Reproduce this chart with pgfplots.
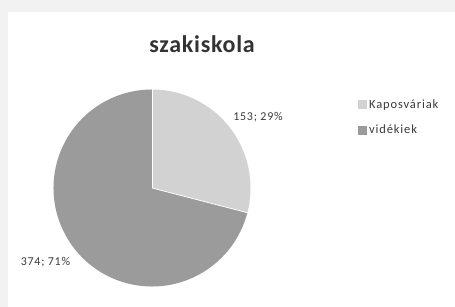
\documentclass[border=0pt]{standalone}
\usepackage{pgfplots}
\pgfplotsset{compat=1.18}
\usepackage{pgfplotstable}
\usepackage{fontspec}
\setmainfont{Carlito}
\newfontfamily\titlefont[LetterSpace=3]{Carlito}
\newfontfamily\labfont[LetterSpace=6]{Carlito}
\newfontfamily\legfont[LetterSpace=7]{Carlito}
\definecolor{kap}{HTML}{D2D2D2}
\definecolor{vid}{HTML}{9B9B9B}
\definecolor{outer}{HTML}{F2F2F2}
\definecolor{txt}{HTML}{3A3A3A}
\pgfplotstableread{
cat value
Kap 153
Vid 374
}\piedata
\begin{document}
\begin{tikzpicture}
\pgfplotstablegetelem{0}{value}\of\piedata\let\va\pgfplotsretval
\pgfplotstablegetelem{1}{value}\of\piedata\let\vb\pgfplotsretval
\pgfmathsetmacro{\tot}{\va+\vb}
\pgfmathsetmacro{\fa}{\va/\tot}
\pgfmathsetmacro{\angA}{90-360*\fa}
\pgfmathtruncatemacro{\pA}{round(100*\fa)}
\pgfmathtruncatemacro{\pB}{100-\pA}
\begin{axis}[
  width=455pt, height=307pt, scale only axis,
  xmin=0, xmax=455, ymin=0, ymax=307,
  hide axis, clip=false,
  legend style={at={(axis cs:358,189.5)}, anchor=west, draw=none, fill=none,
    font=\fontsize{12.5}{13}\legfont\color{txt}, row sep=10.5pt, inner sep=0pt,
    nodes={inner sep=2.5pt}},
  legend cell align=left,
  legend image code/.code={\fill[#1] (0pt,-4pt) rectangle (8pt,4pt);},
]
\fill[outer] (axis cs:0,0) rectangle (axis cs:455,307);
\fill[white] (axis cs:8,0) rectangle (axis cs:455,295);
\coordinate (bl) at (axis cs:0,0);
\coordinate (tr) at (axis cs:455,307);
\fill[kap] (axis cs:152,119) -- ++(90:98.5pt) arc[start angle=90, end angle=\angA, radius=98.5pt] -- cycle;
\fill[vid] (axis cs:152,119) -- ++(\angA:98.5pt) arc[start angle=\angA, end angle=-270, radius=98.5pt] -- cycle;
\draw[white, line width=0.8pt] (axis cs:152,119) -- ++(90:98.5pt);
\draw[white, line width=0.8pt] (axis cs:152,119) -- ++(\angA:98.5pt);
\node[font=\fontsize{24}{28}\titlefont\bfseries, text=black!80] at (axis cs:202,263) {szakiskola};
\node[font=\fontsize{12}{13}\labfont, text=txt] at (axis cs:258,190) {\va; \pA\%};
\node[font=\fontsize{12}{13}\labfont, text=txt] at (axis cs:45.5,45) {\vb; \pB\%};
\addlegendimage{kap}
\addlegendentry{Kaposváriak}
\addlegendimage{vid}
\addlegendentry{vidékiek}
\end{axis}
\pgfresetboundingbox
\useasboundingbox (bl) rectangle (tr);
\end{tikzpicture}
\end{document}
